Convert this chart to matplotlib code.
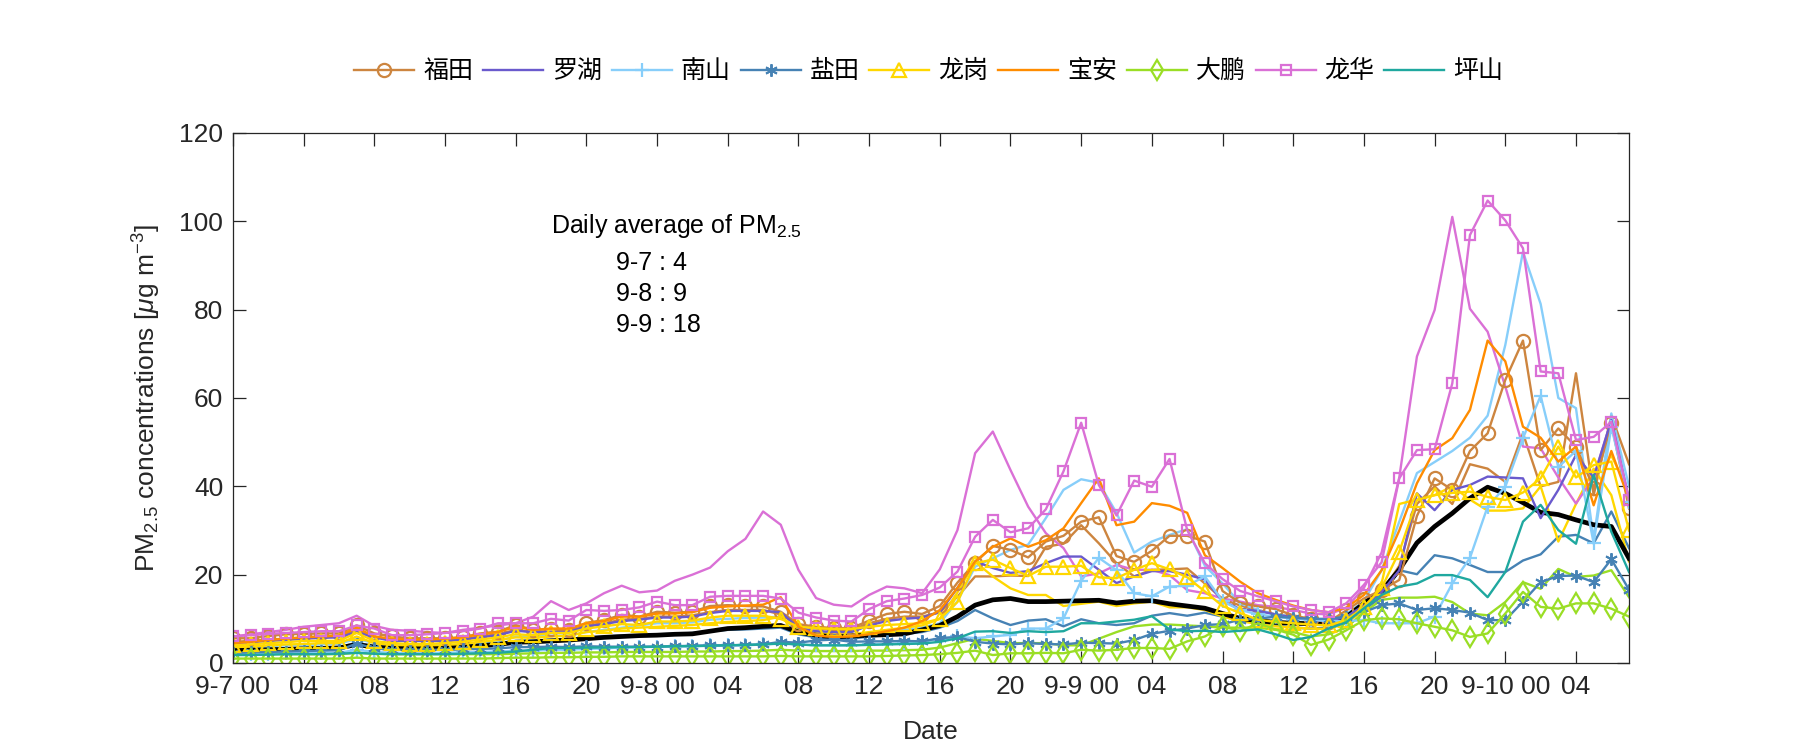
import matplotlib
matplotlib.use('Agg')
import matplotlib.pyplot as plt
from matplotlib import font_manager
import numpy as np

names = {f.name for f in font_manager.fontManager.ttflist}
num_font = 'Liberation Sans Narrow' if 'Liberation Sans Narrow' in names else 'Liberation Sans'
plt.rcParams['font.family'] = [num_font, 'Noto Sans CJK SC', 'DejaVu Sans']
plt.rcParams['mathtext.fontset'] = 'custom'
plt.rcParams['mathtext.rm'] = num_font
plt.rcParams['mathtext.it'] = num_font + ':italic'

# hourly data, 9-7 00 .. 9-10 07
hours = np.arange(80)

futian_m = [5.6, 5.6, 6.1, 6.5, 6.6, 6.7, 6.7, 8.5, 6.7, 6.0, 5.6, 5.6, 5.6, 5.8, 6.7, 7.1, 8.6, 7.5, 7.6, 7.4, 9.1, 9.7, 10.9, 10.5,
            11.6, 11.4, 11.6, 12.9, 13.1, 12.9, 12.8, 11.6, 8.8, 8.2, 7.9, 7.9, 9.6, 11.1, 11.6, 11.1, 12.9, 18.2, 22.7, 26.5, 25.6, 23.9, 27.5, 28.8,
            32.0, 33.0, 24.2, 22.9, 25.4, 28.8, 28.8, 27.5, 16.3, 13.6, 12.8, 12.2, 10.8, 9.9, 9.3, 11.9, 14.6, 16.5, 18.8, 33.3, 41.8, 39.2, 48.0, 52.0,
            64.1, 73.0, 48.2, 53.1, 49.0, 39.6, 54.3, 35.0]
futian_2 = [4.8, 5.0, 5.3, 5.5, 5.8, 6.0, 6.0, 7.5, 6.0, 5.2, 5.0, 5.0, 5.0, 5.3, 6.0, 6.5, 7.5, 7.0, 7.0, 7.0, 8.5, 9.0, 9.8, 10.0,
            10.5, 10.5, 10.8, 11.5, 12.0, 12.0, 12.0, 11.0, 8.5, 7.8, 7.5, 7.5, 9.0, 10.0, 10.5, 10.5, 11.5, 15.0, 19.6, 19.6, 19.8, 19.7, 26.3, 27.0,
            31.2, 27.1, 22.6, 19.6, 21.1, 21.2, 21.4, 18.0, 14.5, 13.0, 12.0, 11.0, 10.5, 10.0, 9.8, 11.0, 13.5, 16.0, 22.0, 36.0, 40.0, 36.0, 45.0, 44.0,
            41.0, 52.0, 40.0, 41.0, 65.6, 38.0, 56.0, 45.0]
luohu = [4.5, 4.7, 5.0, 5.2, 5.5, 5.7, 5.8, 7.0, 5.8, 5.0, 5.0, 5.0, 5.0, 5.3, 5.8, 6.3, 7.3, 7.0, 7.0, 7.0, 8.3, 8.8, 9.5, 9.8,
         10.3, 10.3, 10.5, 11.3, 11.8, 11.8, 11.8, 11.5, 8.0, 7.2, 7.0, 7.0, 8.5, 9.5, 10.0, 10.3, 11.5, 17.0, 23.0, 21.5, 20.4, 20.8, 22.6, 24.1,
         24.1, 21.1, 18.1, 19.6, 20.8, 20.8, 20.0, 18.9, 14.0, 12.2, 11.8, 11.0, 10.3, 9.8, 9.5, 10.5, 13.0, 16.0, 21.0, 38.4, 34.6, 39.2, 40.3, 42.2,
         42.0, 41.8, 32.8, 39.2, 47.1, 42.0, 55.0, 37.0]
nanshan_m = [2.0, 2.0, 2.1, 2.2, 2.2, 2.3, 2.3, 3.0, 2.5, 2.3, 2.3, 2.3, 2.3, 2.4, 2.5, 2.6, 2.8, 2.8, 3.0, 3.0, 3.2, 3.3, 3.5, 3.6,
             3.7, 3.8, 3.8, 4.0, 4.0, 4.0, 4.2, 4.5, 4.2, 4.0, 4.0, 4.0, 4.2, 4.3, 4.5, 4.8, 5.5, 6.0, 5.6, 6.0, 6.4, 7.8, 7.8, 10.1,
             18.6, 23.8, 21.0, 15.8, 15.1, 17.3, 17.5, 19.6, 14.0, 12.0, 11.0, 10.5, 10.0, 9.8, 9.5, 9.5, 9.7, 9.0, 9.0, 9.0, 10.5, 18.0, 23.8, 35.4,
             39.9, 50.9, 60.5, 44.4, 48.0, 27.1, 53.5, 36.5]
nanshan_2 = [3.5, 3.6, 3.8, 4.0, 4.0, 4.2, 4.3, 5.5, 4.5, 4.0, 4.0, 4.0, 4.0, 4.2, 4.6, 5.0, 6.0, 6.0, 6.2, 6.2, 7.0, 7.5, 8.0, 8.5,
             9.0, 9.0, 9.2, 9.8, 10.0, 10.2, 10.3, 10.5, 7.0, 6.0, 5.8, 5.8, 6.5, 7.0, 7.5, 8.0, 9.0, 14.0, 21.8, 23.7, 25.6, 26.8, 32.8, 39.2,
             41.6, 40.8, 34.0, 25.0, 27.5, 29.0, 30.3, 22.0, 18.0, 13.5, 12.0, 11.0, 10.5, 10.0, 9.8, 11.0, 14.0, 21.0, 32.0, 43.0, 45.5, 48.0, 51.0, 56.0,
             72.0, 93.1, 81.3, 60.0, 57.7, 28.0, 56.5, 40.0]
yantian_m = [2.3, 2.4, 2.5, 2.6, 2.7, 2.8, 2.9, 4.4, 3.3, 3.0, 3.0, 3.0, 3.0, 3.1, 3.2, 3.3, 3.6, 3.6, 3.7, 3.6, 3.8, 3.7, 3.7, 3.7,
             3.7, 3.8, 3.9, 4.0, 4.0, 4.1, 4.2, 4.8, 4.6, 5.1, 5.3, 4.8, 4.9, 4.9, 5.0, 4.9, 5.6, 5.9, 4.8, 4.4, 4.2, 4.5, 4.3, 4.2,
             4.6, 4.5, 4.4, 5.2, 6.6, 7.3, 7.8, 8.6, 8.8, 9.8, 10.0, 10.5, 10.2, 10.0, 10.0, 10.5, 11.5, 13.1, 13.5, 12.0, 12.4, 12.0, 11.4, 9.7,
             9.7, 13.9, 18.3, 19.7, 19.8, 18.3, 23.5, 16.6]
yantian_2 = [3.0, 3.1, 3.2, 3.3, 3.4, 3.5, 3.6, 4.5, 3.8, 3.5, 3.4, 3.4, 3.5, 3.8, 4.2, 4.5, 5.0, 5.0, 5.3, 5.5, 5.8, 6.0, 6.2, 6.3,
             6.5, 6.6, 6.8, 7.2, 7.5, 7.6, 7.8, 8.0, 6.5, 5.8, 5.5, 5.5, 6.0, 6.3, 6.6, 7.0, 8.0, 9.5, 12.0, 10.1, 8.6, 9.6, 9.9, 8.3,
             9.9, 9.0, 8.6, 9.0, 10.7, 11.3, 10.7, 11.4, 10.5, 9.8, 9.0, 8.5, 8.0, 7.8, 8.0, 9.5, 12.0, 15.0, 21.0, 20.1, 24.4, 23.7, 22.2, 20.6,
             20.6, 23.2, 24.6, 28.6, 29.0, 27.1, 34.3, 26.0]
longgang_m = [4.0, 4.2, 4.5, 4.7, 5.0, 5.0, 5.0, 6.8, 5.0, 4.5, 4.3, 4.3, 4.5, 4.8, 5.3, 5.8, 6.5, 6.3, 6.8, 6.8, 7.8, 8.3, 8.8, 8.6,
              9.4, 9.4, 9.6, 10.3, 10.7, 10.7, 10.7, 10.0, 8.2, 7.9, 7.7, 7.7, 8.2, 8.6, 8.8, 9.0, 10.0, 13.8, 22.6, 23.4, 21.5, 19.7, 21.8, 21.8,
              22.0, 19.4, 19.2, 21.1, 22.6, 21.2, 19.4, 16.2, 12.9, 11.3, 9.8, 9.3, 9.0, 8.7, 8.5, 9.7, 12.7, 17.0, 25.2, 36.9, 38.0, 38.5, 38.8, 37.6,
              36.9, 38.6, 41.8, 49.0, 42.0, 44.8, 45.6, 30.0]
longgang_2 = [3.5, 3.7, 4.0, 4.2, 4.3, 4.5, 4.5, 6.0, 4.5, 4.0, 3.8, 3.8, 4.0, 4.3, 4.8, 5.2, 5.8, 5.7, 6.0, 6.2, 7.0, 7.3, 7.8, 8.0,
              8.2, 8.4, 8.6, 9.0, 9.3, 9.5, 9.7, 10.5, 7.5, 6.8, 6.5, 6.5, 7.0, 7.5, 8.0, 8.5, 10.0, 16.0, 22.9, 19.6, 16.9, 15.4, 15.4, 12.9,
              13.4, 13.9, 12.9, 13.5, 13.9, 12.6, 12.6, 12.0, 10.5, 9.5, 8.8, 8.3, 8.0, 7.8, 7.7, 9.0, 12.0, 18.0, 36.0, 37.0, 38.0, 40.0, 37.0, 34.5,
              34.5, 35.0, 40.0, 27.5, 36.0, 44.0, 38.0, 23.0]
baoan = [4.5, 4.8, 5.2, 5.5, 5.8, 6.0, 6.2, 8.0, 6.0, 5.5, 5.3, 5.3, 5.5, 5.8, 6.5, 7.0, 8.2, 7.5, 7.8, 7.8, 9.0, 9.5, 10.5, 10.5,
         11.2, 11.2, 11.5, 12.5, 12.8, 13.0, 13.2, 14.9, 8.2, 6.2, 5.9, 6.0, 6.5, 7.2, 8.0, 9.5, 12.0, 17.0, 23.0, 26.3, 28.2, 26.3, 27.8, 30.5,
         36.2, 41.8, 31.2, 32.0, 36.2, 35.6, 34.0, 24.4, 21.5, 18.4, 15.8, 14.3, 13.0, 12.0, 11.5, 12.5, 15.4, 21.0, 30.0, 40.7, 48.2, 50.9, 57.3, 73.0,
         68.3, 53.5, 51.0, 45.6, 49.0, 35.7, 48.0, 37.0]
dapeng_m = [1.0, 1.0, 1.0, 1.0, 1.0, 1.0, 1.0, 1.2, 1.0, 1.0, 1.0, 1.0, 1.0, 1.0, 1.0, 1.1, 1.2, 1.2, 1.3, 1.3, 1.4, 1.4, 1.5, 1.5,
            1.5, 1.5, 1.5, 1.5, 1.5, 1.5, 1.5, 1.6, 1.5, 1.5, 1.5, 1.5, 1.5, 1.6, 1.7, 1.8, 2.0, 2.3, 2.8, 1.8, 2.2, 2.2, 2.3, 2.2,
            3.0, 2.8, 3.0, 3.4, 3.4, 3.2, 4.9, 6.0, 8.3, 7.2, 9.0, 7.6, 6.4, 4.1, 5.3, 7.4, 9.7, 10.1, 9.9, 9.0, 8.2, 7.4, 5.9, 6.7,
            11.2, 16.1, 12.7, 12.3, 13.5, 13.5, 12.3, 10.5]
dapeng_2 = [2.0, 2.0, 2.0, 2.0, 2.0, 2.0, 2.0, 2.3, 2.1, 2.0, 2.0, 2.0, 2.0, 2.0, 2.0, 2.0, 2.1, 2.2, 2.3, 2.3, 2.4, 2.4, 2.5, 2.5,
            2.5, 2.5, 2.6, 2.6, 2.7, 2.7, 2.8, 3.0, 2.8, 2.7, 2.7, 2.7, 2.8, 2.8, 2.9, 3.0, 3.5, 4.5, 5.5, 5.0, 4.5, 4.5, 4.5, 4.0,
            4.0, 5.5, 7.0, 8.3, 8.7, 8.7, 8.5, 8.3, 8.0, 8.0, 8.0, 7.5, 7.0, 6.0, 6.5, 8.0, 11.5, 14.3, 14.8, 14.8, 15.0, 13.8, 11.2, 10.8,
            13.8, 18.3, 16.8, 21.3, 19.5, 19.8, 21.0, 14.9]
longhua_m = [6.0, 6.3, 6.6, 6.8, 7.0, 7.2, 7.2, 8.5, 7.8, 6.3, 6.3, 6.5, 6.8, 7.2, 7.8, 9.0, 9.0, 9.0, 10.0, 9.6, 12.0, 11.8, 12.0, 12.6,
             13.9, 13.1, 13.1, 15.0, 15.2, 15.2, 15.2, 14.6, 11.4, 10.3, 9.6, 9.4, 12.2, 14.0, 14.6, 15.4, 17.1, 20.7, 28.6, 32.4, 29.6, 30.5, 34.8, 43.4,
             54.4, 40.3, 33.4, 41.3, 39.9, 46.2, 30.1, 22.6, 19.0, 16.3, 15.1, 14.0, 12.8, 12.0, 11.5, 13.5, 17.7, 22.8, 41.8, 48.2, 48.4, 63.3, 96.9, 104.7,
             100.2, 93.9, 66.0, 65.6, 50.5, 51.2, 54.6, 37.0]
longhua_2 = [6.0, 6.5, 7.0, 7.5, 8.2, 8.6, 9.0, 10.7, 8.4, 7.5, 7.3, 7.0, 6.8, 7.5, 8.0, 8.5, 9.0, 10.5, 14.0, 12.0, 13.5, 15.8, 17.5, 16.0,
             16.4, 18.6, 20.0, 21.6, 25.3, 28.1, 34.3, 31.3, 21.1, 14.7, 13.2, 12.8, 15.4, 17.3, 16.9, 15.8, 21.2, 30.1, 47.5, 52.4, 43.7, 35.4, 29.4, 26.0,
             19.6, 20.3, 22.2, 21.1, 21.1, 19.9, 16.5, 15.8, 14.6, 13.9, 13.1, 12.7, 12.0, 11.2, 11.0, 12.5, 17.0, 25.0, 42.0, 69.4, 79.9, 101.0, 80.2, 75.0,
             62.6, 49.0, 48.6, 42.0, 36.1, 42.0, 55.0, 36.0]
pingshan = [1.8, 1.8, 1.9, 2.0, 2.0, 2.0, 2.1, 2.3, 2.1, 2.0, 2.0, 2.0, 2.0, 2.1, 2.2, 2.3, 2.6, 3.0, 3.4, 3.4, 3.5, 3.5, 3.6, 3.6,
            3.7, 3.8, 3.8, 3.9, 4.0, 4.1, 4.2, 4.4, 4.2, 4.0, 4.0, 4.0, 4.1, 4.2, 4.3, 4.4, 4.8, 5.6, 7.1, 7.2, 6.8, 7.2, 7.0, 7.2,
            9.0, 9.0, 9.4, 9.8, 10.6, 7.6, 7.2, 7.3, 7.0, 7.3, 7.6, 6.5, 5.2, 5.9, 7.8, 9.2, 12.4, 15.4, 17.3, 18.0, 19.9, 19.9, 18.8, 14.9,
            20.6, 32.0, 35.8, 30.1, 27.0, 42.6, 29.7, 20.6]
average = [2.8, 2.9, 3.0, 3.1, 3.2, 3.3, 3.4, 4.2, 3.6, 3.3, 3.2, 3.2, 3.3, 3.5, 3.9, 4.2, 4.7, 4.8, 5.0, 5.2, 5.5, 5.8, 6.0, 6.2,
           6.3, 6.5, 6.6, 7.2, 7.8, 8.0, 8.3, 8.5, 7.0, 6.3, 5.9, 6.1, 6.3, 6.4, 6.6, 7.5, 8.5, 10.5, 13.1, 14.3, 14.6, 13.9, 13.9, 14.0,
           14.1, 14.2, 13.6, 14.0, 14.1, 13.4, 12.9, 12.4, 11.2, 10.1, 9.6, 9.2, 9.0, 8.9, 9.0, 10.4, 13.5, 16.3, 21.1, 27.2, 30.9, 33.9, 37.3, 39.8,
           38.4, 36.3, 34.1, 33.6, 32.4, 31.3, 30.9, 23.7]

xtick_pos = list(range(0, 80, 4))
xtick_labels = ['9-7 00', '04', '08', '12', '16', '20', '9-8 00', '04', '08', '12', '16', '20',
                '9-9 00', '04', '08', '12', '16', '20', '9-10 00', '04']
daily_avg = ['9-7 : 4', '9-8 : 9', '9-9 : 18']

c_futian = '#CD853F'
c_luohu = '#6A5ACD'
c_nanshan = '#87CEFA'
c_yantian = '#4682B4'
c_longgang = '#FFD700'
c_baoan = '#FF8C00'
c_dapeng = '#9ADE25'
c_longhua = '#DA70D6'
c_pingshan = '#1FA89F'

fig = plt.figure(figsize=(18, 7.5), dpi=100)
ax = fig.add_axes([0.1294, 0.116, 0.7756, 0.7067])

lw = 1.7
# second site of each district, no markers
ax.plot(hours, futian_2, color=c_futian, lw=lw)
ax.plot(hours, nanshan_2, color=c_nanshan, lw=lw)
ax.plot(hours, yantian_2, color=c_yantian, lw=lw)
ax.plot(hours, longgang_2, color=c_longgang, lw=lw)
ax.plot(hours, dapeng_2, color=c_dapeng, lw=lw)
ax.plot(hours, longhua_2, color=c_longhua, lw=lw)

ax.plot(hours, average, color='black', lw=3.4)

h = []
h += ax.plot(hours, futian_m, color=c_futian, lw=lw, marker='o', ms=9.5, mfc='none', mew=1.6, label='福田')
h += ax.plot(hours, luohu, color=c_luohu, lw=lw, label='罗湖')
h += ax.plot(hours, nanshan_m, color=c_nanshan, lw=lw, marker='+', ms=10, mew=1.6, label='南山')
h += ax.plot(hours, yantian_m, color=c_yantian, lw=lw, marker=(6, 2, 0), ms=9, mew=1.4, label='盐田')
h += ax.plot(hours, longgang_m, color=c_longgang, lw=lw, marker='^', ms=10, mfc='none', mew=1.6, label='龙岗')
h += ax.plot(hours, baoan, color=c_baoan, lw=lw, label='宝安')
h += ax.plot(hours, dapeng_m, color=c_dapeng, lw=lw, marker='d', ms=10, mfc='none', mew=1.6, label='大鹏')
h += ax.plot(hours, longhua_m, color=c_longhua, lw=lw, marker='s', ms=6.5, mfc='none', mew=1.6, label='龙华')
h += ax.plot(hours, pingshan, color=c_pingshan, lw=lw, label='坪山')

ax.set_xlim(0, 79)
ax.set_ylim(0, 120)
ax.set_xticks(xtick_pos)
ax.set_xticklabels(xtick_labels)
ax.set_yticks(range(0, 121, 20))
ax.tick_params(direction='in', length=9, width=0.9, top=True, right=True,
               labelsize=19, colors='#262626')
ax.tick_params(axis='x', pad=9)
ax.tick_params(axis='y', pad=7)
for s in ax.spines.values():
    s.set_linewidth(0.9)
    s.set_color('#262626')

ax.set_xlabel('Date', fontsize=19, color='#262626', labelpad=15)
ax.set_ylabel('PM$_{2.5}$ concentrations [$\\mu$g m$^{-3}$]', fontsize=19, color='#262626', labelpad=12)

ax.text(18.0, 98.9, 'Daily average of PM$_{2.5}$', fontsize=18, va='center', ha='left')
for i, s in enumerate(daily_avg):
    ax.text(21.7, 90.6 - 7.0 * i, s, fontsize=18, va='center', ha='left')

fig.legend(handles=h, loc='center', bbox_to_anchor=(0.516, 0.905), ncol=9, frameon=False,
           fontsize=18, handlelength=2.4, columnspacing=0.4, handletextpad=0.35)

fig.savefig('out.png', dpi=100)
